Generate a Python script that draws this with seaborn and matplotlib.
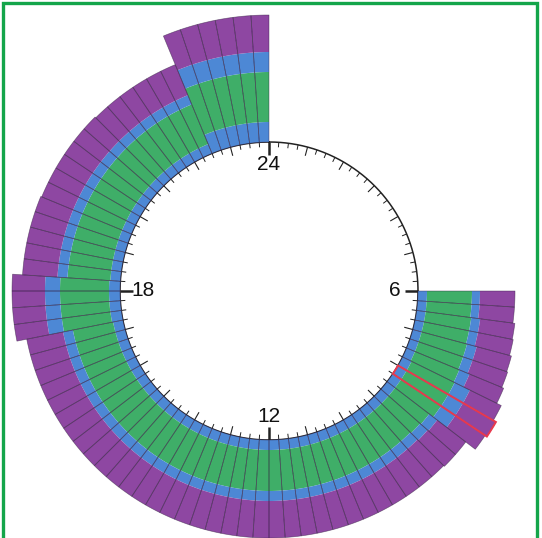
import numpy as np
import matplotlib.pyplot as plt
import seaborn as sns
from matplotlib.patches import Rectangle

# quarter-hour slots from 06:00 to 24:00
slot_start = np.arange(6, 24, 0.25)

# layer thickness per slot (inner blue, green, outer blue, purple), one row per hour
inner_blue = [
    9, 9, 9, 9,          # 6
    9, 9, 9, 10,         # 7
    10, 10, 10, 10,      # 8
    10, 10, 10, 10,      # 9
    10, 10, 10, 10,      # 10
    10, 10, 10, 10,      # 11
    10, 10, 10, 10,      # 12
    10, 10, 10, 10,      # 13
    10, 10, 10, 10,      # 14
    10, 10, 10, 10,      # 15
    10, 10, 10, 10,      # 16
    10, 11, 11, 11,      # 17
    11, 10, 10, 10,      # 18
    10, 10, 10, 10,      # 19
    10, 10, 10, 10,      # 20
    10, 10, 10, 10,      # 21
    10, 10, 20, 20,      # 22
    20, 20, 20, 20,      # 23
]
green = [
    45, 45, 46, 46,
    47, 47, 48, 48,
    48, 48, 43, 42,
    41, 41, 41, 41,
    41, 41, 41, 41,
    41, 41, 41, 41,
    41, 41, 41, 41,
    41, 41, 41, 41,
    41, 41, 41, 41,
    41, 41, 41, 41,
    41, 41, 41, 41,
    41, 49, 49, 49,
    49, 43, 43, 43,
    43, 43, 43, 43,
    43, 43, 43, 43,
    43, 43, 43, 43,
    43, 43, 50, 50,
    50, 50, 50, 50,
]
outer_blue = [
    8, 8, 9, 9,
    10, 10, 11, 17,
    17, 17, 10, 10,
    10, 10, 10, 10,
    10, 10, 10, 10,
    10, 10, 10, 10,
    10, 10, 10, 10,
    10, 10, 10, 10,
    10, 10, 10, 10,
    10, 10, 10, 10,
    10, 10, 10, 10,
    10, 15, 15, 15,
    15, 10, 10, 10,
    10, 10, 10, 10,
    10, 10, 10, 10,
    10, 10, 10, 10,
    10, 10, 20, 20,
    20, 20, 20, 20,
]
purple = [
    35, 35, 35, 36,
    36, 37, 37, 35,
    38, 36, 36, 37,
    37, 37, 37, 37,
    37, 37, 37, 37,
    37, 37, 37, 37,
    37, 37, 37, 37,
    37, 37, 37, 37,
    37, 37, 37, 37,
    37, 37, 37, 37,
    37, 37, 37, 37,
    37, 33, 33, 33,
    33, 35, 35, 35,
    35, 35, 34, 34,
    34, 34, 34, 34,
    33, 33, 33, 33,
    33, 33, 37, 37,
    37, 37, 37, 37,
]
highlight_slot = 8.0
hour_labels = {6: '6', 12: '12', 18: '18', 24: '24'}

layer_colors = sns.color_palette(['#4D88D5', '#3FAE68', '#4D88D5', '#8E47A2'])

R_INNER = 149
R_MAX = 280

sns.set_theme(style='white')
plt.rcParams['font.family'] = ['Liberation Sans', 'DejaVu Sans']

W, H = 542, 538
fig = plt.figure(figsize=(W / 100, H / 100), dpi=100)
cx, cy = 269, 291
ax = fig.add_axes([(cx - R_MAX) / W, (H - cy - R_MAX) / H, 2 * R_MAX / W, 2 * R_MAX / H],
                  projection='polar')
ax.set_theta_zero_location('N')
ax.set_theta_direction(-1)
ax.set_ylim(0, R_MAX)
ax.grid(False)
ax.set_xticks([])
ax.set_yticks([])
ax.spines['polar'].set_visible(False)
ax.patch.set_alpha(0)


def to_theta(h):
    return np.asarray(h) / 24 * 2 * np.pi


theta = to_theta(slot_start)
width = 2 * np.pi / 96

# stacked layers
bottom = np.full(len(slot_start), float(R_INNER))
for vals, col in zip([inner_blue, green, outer_blue, purple], layer_colors):
    vals = np.asarray(vals, dtype=float)
    ax.bar(theta, vals, width=width, bottom=bottom, align='edge',
           color=col, linewidth=0, zorder=2)
    bottom = bottom + vals

# thin dark separators / outline of each slot
totals = bottom - R_INNER
ax.bar(theta, totals, width=width, bottom=R_INNER, align='edge', fill=False,
       edgecolor=(0.2, 0.12, 0.25, 0.55), linewidth=0.5, zorder=3)

# highlighted slot
hi = np.where(np.isclose(slot_start, highlight_slot))[0]
ax.bar(theta[hi], totals[hi], width=width, bottom=R_INNER, align='edge', fill=False,
       edgecolor='#E8394E', linewidth=1.4, zorder=4)

# dial circle and ticks
circ = np.linspace(0, 2 * np.pi, 500)
ax.plot(circ, np.full_like(circ, R_INNER), color='#222222', lw=1.1, zorder=1, clip_on=False)
for q in range(96):
    h = q / 4
    if q % 24 == 0:
        ln, lw = 13, 1.8
    elif q % 4 == 0:
        ln, lw = 9, 0.8
    else:
        ln, lw = 5, 0.7
    t = to_theta(h)
    ax.plot([t, t], [R_INNER, R_INNER - ln], color='#222222', lw=lw,
            solid_capstyle='butt', zorder=1, clip_on=False)

for h, lab in hour_labels.items():
    ax.text(to_theta(h), 126, lab, ha='center', va='center', fontsize=15, color='#111111')

# green frame (bottom edge runs off the picture)
fig.patches.append(Rectangle((2.5 / W, -0.05), (536.5 - 2.5) / W, 1.05 - 2.5 / H,
                             transform=fig.transFigure, fill=False,
                             edgecolor='#14A54A', linewidth=2.4))

fig.savefig('out.png', dpi=100)
